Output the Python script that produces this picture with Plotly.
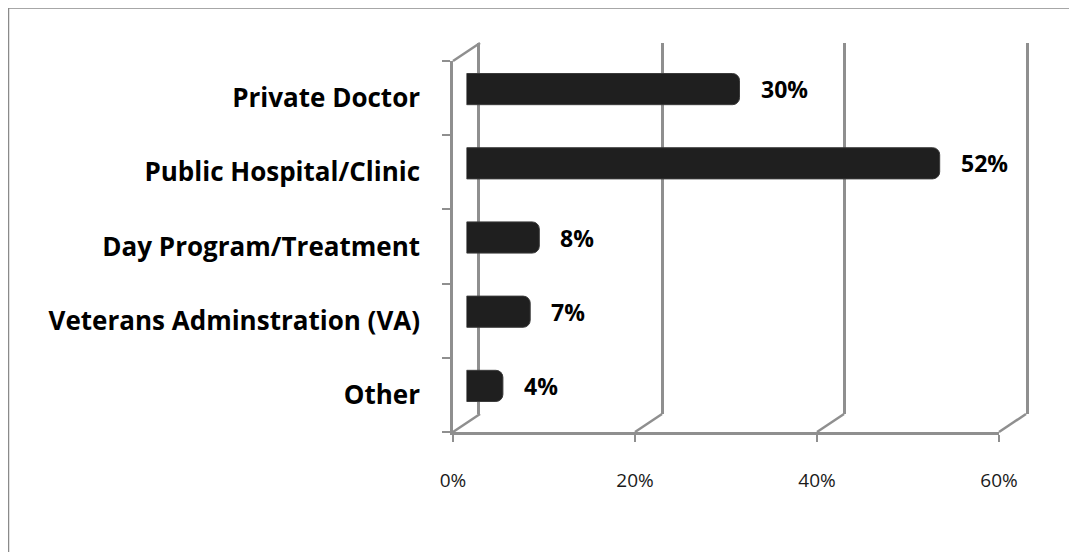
import plotly.graph_objects as go

W, H = 1077, 552

CATEGORIES = ['Private Doctor', 'Public Hospital/Clinic', 'Day Program/Treatment',
              'Veterans Adminstration (VA)', 'Other']
SHARES = [0.30, 0.52, 0.08, 0.07, 0.04]
LABELS = ['30%', '52%', '8%', '7%', '4%']
X_TICKS = [0, 0.2, 0.4, 0.6]
X_TICK_TEXT = ['0%', '20%', '40%', '60%']

GRAY = '#8f8f8f'
FONT = 'Open Sans, Carlito, Calibri, sans-serif'

# the page adds an 8px body margin, so pixel positions are measured from there
PAGE = 8
# front frame in pixels, plus the 3d depth offset
FRONT_L, FRONT_R, FRONT_T, FRONT_B = 453 - PAGE, 999 - PAGE, 61 - PAGE, 432 - PAGE
DX, DY = 27, 18


def dom(left, right, top, bottom):
    return [left / W, right / W], [1 - bottom / H, 1 - top / H]


back_x, back_y = dom(FRONT_L + DX, FRONT_R + DX, FRONT_T - DY, FRONT_B - DY)
mid_x, mid_y = dom(FRONT_L + DX / 2, FRONT_R + DX / 2, FRONT_T - DY / 2, FRONT_B - DY / 2)
front_x, front_y = dom(FRONT_L, FRONT_R, FRONT_T, FRONT_B)

cat_range = [len(CATEGORIES) - 0.5, -0.5]
x_range = [0, 0.6]

fig = go.Figure()
# empty carriers so the back wall and the front edges get drawn
fig.add_trace(go.Scatter(x=SHARES, y=CATEGORIES, mode='none', xaxis='x', yaxis='y',
                         hoverinfo='skip', showlegend=False))
fig.add_trace(
    go.Bar(
        x=SHARES,
        y=CATEGORIES,
        orientation='h',
        xaxis='x2',
        yaxis='y2',
        width=0.42,
        marker=dict(color='#1f1f1f', line=dict(color='#3a3a3a', width=1), cornerradius=7),
        hoverinfo='skip',
        showlegend=False,
    )
)
fig.add_trace(go.Scatter(x=SHARES, y=CATEGORIES, mode='none', xaxis='x3', yaxis='y3',
                         hoverinfo='skip', showlegend=False))

annotations = [
    dict(x=v, y=c, xref='x2', yref='y2', text=f'<b>{t}</b>', showarrow=False,
         xanchor='left', yanchor='middle', xshift=19,
         font=dict(family=FONT, size=23, color='#000000'))
    for v, c, t in zip(SHARES, CATEGORIES, LABELS)
]

line_style = dict(color=GRAY, width=2.5)
shapes = []
for t in X_TICKS:
    # floor diagonal from the front edge to the back wall
    shapes.append(dict(type='line', xref='x3 domain', yref='y3 domain', xsizemode='pixel', ysizemode='pixel',
                       xanchor=t / x_range[1], yanchor=0, x0=0, x1=DX, y0=0, y1=DY, line=line_style))
# top of the left wall
shapes.append(dict(type='line', xref='x3 domain', yref='y3 domain', xsizemode='pixel', ysizemode='pixel',
                   xanchor=0, yanchor=1, x0=0, x1=DX, y0=0, y1=DY, line=line_style))
# chart border
shapes.append(dict(type='rect', xref='paper', yref='paper', x0=0.5 / W, x1=1.05, y0=-0.05, y1=1 - 0.0 / H,
                   line=dict(color='#8a8a8a', width=1.5), layer='below'))

fig.update_layout(
    template='none',
    width=W,
    height=H,
    autosize=False,
    margin=dict(l=0, r=0, t=0, b=0),
    paper_bgcolor='#FFFFFF',
    plot_bgcolor='rgba(0,0,0,0)',
    font=dict(family=FONT, color='#000000'),
    showlegend=False,
    # back wall
    xaxis=dict(domain=back_x, range=x_range, anchor='y', showgrid=True, gridcolor=GRAY, gridwidth=2.5,
               tickvals=X_TICKS, showticklabels=False, ticks='', zeroline=False, showline=False),
    yaxis=dict(domain=back_y, range=cat_range, anchor='x', type='category', categoryarray=CATEGORIES,
               showgrid=False, showticklabels=False, ticks='', showline=True, mirror=True,
               linecolor=GRAY, linewidth=2.5, zeroline=False),
    # bars at mid depth
    xaxis2=dict(domain=mid_x, range=x_range, anchor='y2', visible=False),
    yaxis2=dict(domain=mid_y, range=cat_range, anchor='x2', type='category', categoryarray=CATEGORIES,
                visible=False),
    # front edges of floor and left wall
    xaxis3=dict(domain=front_x, range=x_range, anchor='y3', showgrid=False, zeroline=False,
                tickvals=X_TICKS, ticktext=X_TICK_TEXT, ticks='outside', ticklen=7, tickwidth=2,
                tickcolor=GRAY, showline=True, linecolor=GRAY, linewidth=2.5, ticklabelstandoff=22,
                tickfont=dict(family=FONT, size=19, color='#1a1a1a')),
    yaxis3=dict(domain=front_y, range=cat_range, anchor='x3', type='category', categoryarray=CATEGORIES,
                tickson='boundaries', ticks='outside', ticklen=8, tickwidth=2, tickcolor=GRAY,
                showgrid=False, showline=True, linecolor=GRAY, linewidth=2.5, zeroline=False,
                ticklabelstandoff=25,
                tickvals=CATEGORIES, ticktext=[f'<b>{c}</b>' for c in CATEGORIES],
                tickfont=dict(family=FONT, size=26, color='#000000')),
    annotations=annotations,
    shapes=shapes,
)

fig.write_html('out.html')
